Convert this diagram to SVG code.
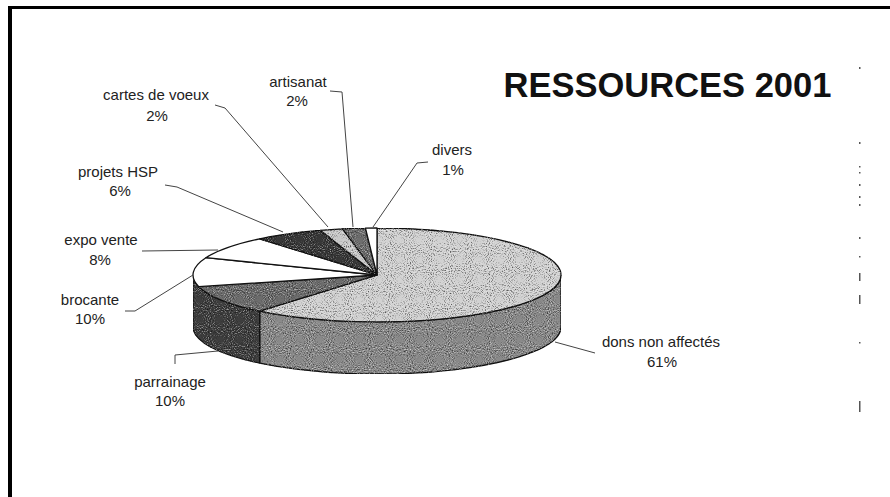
<svg xmlns="http://www.w3.org/2000/svg" width="890" height="497" viewBox="0 0 890 497">
<style>
.lbl{font-family:"Liberation Sans",Arial,sans-serif;font-size:15px;fill:#222;text-anchor:middle}
.title{font-family:"Liberation Sans",Arial,sans-serif;font-size:34.5px;font-weight:bold;fill:#111;text-anchor:middle}
.lead{fill:none;stroke:#444;stroke-width:1}
.slice{stroke:#111;stroke-width:1.3;stroke-linejoin:round}
.dot{fill:#555}
</style>
<defs>
<filter id="grain" x="0" y="0" width="100%" height="100%" color-interpolation-filters="sRGB">
<feTurbulence type="fractalNoise" baseFrequency="0.95" numOctaves="1" seed="7" result="n"/>
<feColorMatrix in="n" type="matrix" values="0 0 0 0 0  0 0 0 0 0  0 0 0 0 0  2.2 0 0 0 -1.15" result="dk"/>
<feComposite in="dk" in2="SourceGraphic" operator="in" result="dkc"/>
<feColorMatrix in="n" type="matrix" values="0 0 0 0 1  0 0 0 0 1  0 0 0 0 1  -2.2 0 0 0 1.0" result="lt"/>
<feComposite in="lt" in2="SourceGraphic" operator="in" result="ltc"/>
<feMerge><feMergeNode in="SourceGraphic"/><feMergeNode in="dkc"/><feMergeNode in="ltc"/></feMerge>
</filter>
</defs>
<rect width="890" height="497" fill="#fff"/>
<g id="frame">
<line x1="8" y1="7.5" x2="890" y2="7.5" stroke="#000" stroke-width="3"/>
<line x1="10" y1="6" x2="10" y2="497" stroke="#000" stroke-width="4"/>
</g>
<text class="title" x="667.5" y="97">RESSOURCES 2001</text>
<g id="pie">
<g id="sides" filter="url(#grain)">
<path class="slice" fill="#8a8a8a" d="M561 275 A184 47 0 0 1 259.72 311.21 L259.72 363.21 A184 47 0 0 0 561 327 Z"/>
<path class="slice" fill="#3e3e3e" d="M259.72 311.21 A184 47 0 0 1 193 275 L193 327 A184 47 0 0 0 259.72 363.21 Z"/>
</g>
<g id="slice-dons" filter="url(#grain)"><path class="slice" fill="#d2d2d2" d="M377 275 L377 228 A184 47 0 1 1 259.72 311.21 Z"/></g>
<g id="slice-parrainage" filter="url(#grain)"><path class="slice" fill="#6c6c6c" d="M377 275 L259.72 311.21 A184 47 0 0 1 198.78 286.69 Z"/></g>
<g id="slice-brocante"><path class="slice" fill="#fff" d="M377 275 L198.78 286.69 A184 47 0 0 1 205.92 257.70 Z"/></g>
<g id="slice-expo"><path class="slice" fill="#fff" d="M377 275 L205.92 257.70 A184 47 0 0 1 259.72 238.79 Z"/></g>
<g id="slice-projets" filter="url(#grain)"><path class="slice" fill="#383838" d="M377 275 L259.72 238.79 A184 47 0 0 1 320.14 230.30 Z"/></g>
<g id="slice-cartes" filter="url(#grain)"><path class="slice" fill="#cacaca" d="M377 275 L320.14 230.30 A184 47 0 0 1 342.52 228.83 Z"/></g>
<g id="slice-artisanat" filter="url(#grain)"><path class="slice" fill="#6e6e6e" d="M377 275 L342.52 228.83 A184 47 0 0 1 365.45 228.09 Z"/></g>
<g id="slice-divers"><path class="slice" fill="#fff" d="M377 275 L365.45 228.09 A184 47 0 0 1 377 228 Z"/></g>
</g>
<g id="connectors">
<polyline class="lead" points="215,105 225,108 328,227"/>
<polyline class="lead" points="330,91 342,92 353,227"/>
<polyline class="lead" points="428,162 417,163 373,227"/>
<polyline class="lead" points="165,185 177,187 283,232"/>
<polyline class="lead" points="142,251 218,250"/>
<polyline class="lead" points="125,311 135,311 193,275"/>
<polyline class="lead" points="175,364 175,355 218,351"/>
<polyline class="lead" points="555,342 595,353"/>
</g>
<g id="label-cartes"><text class="lbl" x="156" y="100">cartes de voeux</text><text class="lbl" x="157" y="121">2%</text></g>
<g id="label-artisanat"><text class="lbl" x="298" y="87">artisanat</text><text class="lbl" x="297" y="106">2%</text></g>
<g id="label-divers"><text class="lbl" x="452" y="155">divers</text><text class="lbl" x="453" y="175">1%</text></g>
<g id="label-projets"><text class="lbl" x="118" y="177">projets HSP</text><text class="lbl" x="120" y="196">6%</text></g>
<g id="label-expo"><text class="lbl" x="101" y="245">expo vente</text><text class="lbl" x="100" y="265">8%</text></g>
<g id="label-brocante"><text class="lbl" x="90" y="305">brocante</text><text class="lbl" x="90" y="324">10%</text></g>
<g id="label-parrainage"><text class="lbl" x="170" y="387">parrainage</text><text class="lbl" x="170" y="406">10%</text></g>
<g id="label-dons"><text class="lbl" x="661" y="347">dons non affectés</text><text class="lbl" x="662" y="367">61%</text></g>
<g id="specks">
<rect class="dot" x="859" y="67" width="1.5" height="2"/>
<rect class="dot" x="859" y="142" width="1.5" height="2"/>
<rect class="dot" x="859" y="166" width="1.5" height="1.5"/>
<rect class="dot" x="859" y="172" width="1.5" height="1.5"/>
<rect class="dot" x="859" y="184" width="1.5" height="2"/>
<rect class="dot" x="859" y="196" width="1.5" height="2"/>
<rect class="dot" x="859" y="204" width="1.5" height="2"/>
<rect class="dot" x="859" y="237" width="1.5" height="2"/>
<rect class="dot" x="859" y="256" width="1.5" height="1.5"/>
<rect class="dot" x="859" y="273" width="1.5" height="8"/>
<rect class="dot" x="859" y="295" width="1.5" height="9"/>
<rect class="dot" x="859" y="342" width="1.5" height="1.5"/>
<rect class="dot" x="859" y="401" width="1.5" height="11"/>
</g>
</svg>
